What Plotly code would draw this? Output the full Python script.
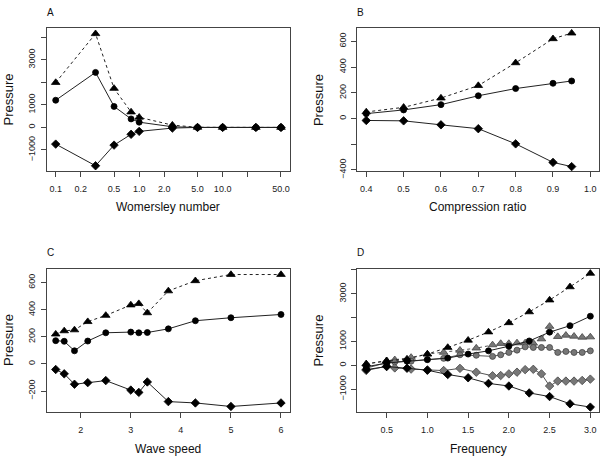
import plotly.graph_objects as go

# ---------------- Data ----------------
# Panel A: Womersley number (log x)
a_x = [0.1, 0.3, 0.5, 0.8, 1.0, 2.5, 5, 10, 25, 50]
a_tri = [1994, 4163, 1732, 684, 451, 102, 5, 0, 0, 0]
a_circ = [1208, 2445, 932, 378, 233, 29, 0, 0, 0, 0]
a_diam = [-742, -1703, -786, -306, -175, -29, 0, 0, 0, 0]

# Panel B: Compression ratio
b_x = [0.4, 0.5, 0.6, 0.7, 0.8, 0.9, 0.95]
b_tri = [51, 87, 159, 256, 433, 620, 664]
b_circ = [38, 67, 108, 177, 233, 274, 292]
b_diam = [-15, -18, -49, -79, -197, -341, -374]

# Panel C: Wave speed
c_x = [1.5, 1.67, 1.875, 2.14, 2.5, 3.0, 3.16, 3.33, 3.75, 4.29, 5.0, 6.0]
c_tri = [220, 244, 251, 312, 358, 435, 445, 377, 539, 614, 660, 660]
c_circ = [172, 167, 97, 169, 230, 235, 230, 232, 259, 319, 341, 365]
c_diam = [-41, -73, -150, -138, -123, -193, -210, -133, -278, -288, -314, -288]

# Panel D: Frequency
d_x = [0.25, 0.5, 0.75, 1.0, 1.25, 1.5, 1.75, 2.0, 2.25, 2.5, 2.75, 3.0]
d_tri = [55, 190, 260, 470, 746, 1050, 1396, 1783, 2239, 2736, 3289, 3856]
d_circ = [-60, 90, 170, 240, 300, 470, 606, 800, 1020, 1390, 1660, 2058]
d_diam = [-180, -55, -125, -207, -387, -525, -760, -870, -1160, -1313, -1617, -1755]

dg_x = [0.25, 0.5, 0.6, 0.8, 1.0, 1.2, 1.4, 1.6, 1.8, 1.9, 2.0, 2.1, 2.2, 2.3,
        2.4, 2.5, 2.6, 2.7, 2.8, 2.9, 3.0]
dg_tri = [60, 190, 230, 330, 470, 540, 630, 720, 855, 913, 913, 938, 938, 925,
          1104, 1631, 1203, 1257, 1216, 1174, 1187]
dg_circ = [-120, 110, 140, 170, 235, 290, 440, 420, 373, 440, 539, 635, 772, 747,
           747, 747, 539, 581, 539, 539, 606]
dg_diam = [-220, -40, -110, -160, -195, -220, -130, -290, -440, -431, -361, -290,
           -183, -170, -361, -871, -664, -664, -664, -637, -581]

# Tick labels
a_xticks = [0.1, 0.2, 0.5, 1, 2, 5, 10, 20, 50]
a_xlabels = ["0.1", "0.2", "0.5", "1.0", "2.0", "5.0", "10.0", "", "50.0"]
a_yticks = [-1000, 0, 1000, 2000, 3000, 4000]
a_ylabels = ["\u22121000", "0", "1000", "", "3000", ""]
b_xticks = [0.4, 0.5, 0.6, 0.7, 0.8, 0.9, 1.0]
b_xlabels = ["0.4", "0.5", "0.6", "0.7", "0.8", "0.9", "1.0"]
b_yticks = [-400, -200, 0, 200, 400, 600]
b_ylabels = ["\u2212400", "", "0", "200", "400", "600"]
c_xticks = [2, 3, 4, 5, 6]
c_xlabels = ["2", "3", "4", "5", "6"]
c_yticks = [-200, 0, 200, 400, 600]
c_ylabels = ["\u2212200", "0", "200", "400", "600"]
d_xticks = [0.5, 1.0, 1.5, 2.0, 2.5, 3.0]
d_xlabels = ["0.5", "1.0", "1.5", "2.0", "2.5", "3.0"]
d_yticks = [-1000, 0, 1000, 2000, 3000, 4000]
d_ylabels = ["\u22121000", "0", "1000", "", "3000", ""]

W, H = 603, 463
FONT = "Liberation Sans, Arial, Helvetica, sans-serif"

fig = go.Figure()

def add_set(xa, ya, x, tri, circ, diam, dark=True):
    lc = "#222222" if dark else "#555555"
    fill = "black" if dark else "#777777"
    edge = "black" if dark else "#444444"
    common = dict(xaxis=xa, yaxis=ya, mode="lines+markers", showlegend=False,
                  hoverinfo="skip")
    fig.add_trace(go.Scatter(x=x, y=tri, line=dict(color=lc, width=1, dash="3px,3px"),
                             marker=dict(symbol="triangle-up", size=7.5, color=fill,
                                         line=dict(color=edge, width=0.8)), **common))
    fig.add_trace(go.Scatter(x=x, y=circ, line=dict(color=lc, width=1),
                             marker=dict(symbol="circle", size=6, color=fill,
                                         line=dict(color=edge, width=0.8)), **common))
    fig.add_trace(go.Scatter(x=x, y=diam, line=dict(color=lc, width=1),
                             marker=dict(symbol="diamond", size=6.5, color=fill,
                                         line=dict(color=edge, width=0.8)), **common))

add_set("x", "y", a_x, a_tri, a_circ, a_diam)
add_set("x2", "y2", b_x, b_tri, b_circ, b_diam)
add_set("x3", "y3", c_x, c_tri, c_circ, c_diam)
add_set("x4", "y4", dg_x, dg_tri, dg_circ, dg_diam, dark=False)
add_set("x4", "y4", d_x, d_tri, d_circ, d_diam)

def px_x(p):
    return p / W

def px_y(p):
    return 1 - p / H

dom_x_left = [px_x(46.7), px_x(290.0)]
dom_x_right = [px_x(357.3), px_x(599.3)]
dom_y_top = [px_y(174.0), px_y(29.0)]
dom_y_bot = [px_y(419.0), px_y(273.7)]

axis_common = dict(showline=True, linecolor="#444444", linewidth=1, mirror=True,
                   ticks="outside", ticklen=5, tickcolor="#444444", tickwidth=1,
                   showgrid=False, zeroline=False,
                   tickfont=dict(family=FONT, size=9, color="#222222"),
                   tickmode="array")

def xaxis(domain, anchor, rng, tv, tt, typ="linear"):
    return dict(domain=domain, anchor=anchor, range=rng, tickvals=tv, ticktext=tt,
                type=typ, ticklabelstandoff=4, **axis_common)

def yaxis(domain, anchor, rng, tv, tt):
    return dict(domain=domain, anchor=anchor, range=rng, tickvals=tv, ticktext=tt,
                tickangle=-90, ticklabelstandoff=2, **axis_common)

fig.update_layout(
    width=W, height=H, margin=dict(l=0, r=0, t=0, b=0),
    paper_bgcolor="white", plot_bgcolor="white",
    xaxis=xaxis(dom_x_left, "y", [-1.108, 1.807], a_xticks, a_xlabels, "log"),
    yaxis=yaxis(dom_y_top, "x", [-1936, 4396], a_yticks, a_ylabels),
    xaxis2=xaxis(dom_x_right, "y2", [0.376, 1.024], b_xticks, b_xlabels),
    yaxis2=yaxis(dom_y_top, "x2", [-408, 700], b_yticks, b_ylabels),
    xaxis3=xaxis(dom_x_left, "y3", [1.32, 6.18], c_xticks, c_xlabels),
    yaxis3=yaxis(dom_y_bot, "x3", [-353, 701], c_yticks, c_ylabels),
    xaxis4=xaxis(dom_x_right, "y4", [0.14, 3.11], d_xticks, d_xlabels),
    yaxis4=yaxis(dom_y_bot, "x4", [-1950, 4040], d_yticks, d_ylabels),
)

def ann(text, x, y, size, angle=0):
    fig.add_annotation(text=text, x=px_x(x), y=px_y(y), xref="paper", yref="paper",
                       showarrow=False, textangle=angle, xanchor="center",
                       yanchor="middle", font=dict(family=FONT, size=size, color="#111111"))

# panel letters
ann("A", 50.5, 12.7, 10)
ann("B", 360.3, 12.7, 10)
ann("C", 50.8, 257, 10)
ann("D", 360.3, 257, 10)
# x titles
ann("Womersley number", 168.3, 211, 12)
ann("Compression ratio", 478.3, 211, 12)
ann("Wave speed", 168.3, 456.5, 12)
ann("Frequency", 478.3, 456.5, 12)
# y titles
ann("Pressure", 8.7, 101.5, 13, -90)
ann("Pressure", 318.3, 101.5, 13, -90)
ann("Pressure", 8.7, 346.3, 13, -90)
ann("Pressure", 318.3, 346.3, 13, -90)

fig.write_html("out.html")
